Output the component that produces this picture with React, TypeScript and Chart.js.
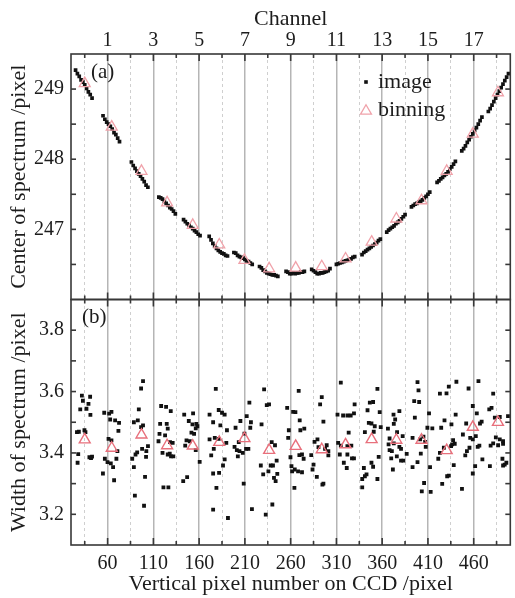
import React, { useEffect, useRef } from 'react';
import { Chart, registerables } from 'chart.js';

Chart.register(...registerables);

const FONT = '"Liberation Serif", "Times New Roman", serif';
const TEXT = '#1c1c1c';
const FRAME = '#383838';
const GRID_MAJOR = '#b5b5b5';
const GRID_MINOR = '#cfcfcf';
const TRI_TOP = '#f0a2aa';
const TRI_BOT = '#e8707c';

// ---- axes ----
const X_MIN = 20;
const X_MAX = 500;
const X_TICKS = [35, 60, 85, 110, 135, 160, 185, 210, 235, 260, 285, 310, 335, 360, 385, 410, 435, 460, 485];
const X_TICK_LABELS = ['', '60', '', '110', '', '160', '', '210', '', '260', '', '310', '', '360', '', '410', '', '460', ''];
const CHANNEL_TICKS = [35, 60, 85, 110, 135, 160, 185, 210, 235, 260, 285, 310, 335, 360, 385, 410, 435, 460, 485];
const CHANNEL_LABELS = ['', '1', '', '3', '', '5', '', '7', '', '9', '', '11', '', '13', '', '15', '', '17', ''];
const Y_TOP_RANGE = [246, 249.5];
const Y_TOP_TICKS = [246.5, 247, 247.5, 248, 248.5, 249];
const Y_TOP_LABELS = ['', '247', '', '248', '', '249'];
const Y_BOT_RANGE = [3.1, 3.9];
const Y_BOT_TICKS = [3.2, 3.3, 3.4, 3.5, 3.6, 3.7, 3.8];
const Y_BOT_LABELS = ['3.2', '', '3.4', '', '3.6', '', '3.8'];

// ---- binning (triangles) ----
const BIN_X = [35, 64.5, 97, 125, 153, 182, 209.5, 236.5, 265.5, 294, 320, 348.5, 375.5, 403, 430.5, 459, 486.5];
const BIN_TOP_Y = [249.08, 248.46, 247.83, 247.38, 247.06, 246.78, 246.56, 246.44, 246.45, 246.47, 246.58, 246.82, 247.15, 247.41, 247.83, 248.36, 248.95];
const BIN_BOT_Y = [3.443, 3.416, 3.459, 3.424, 3.423, 3.435, 3.447, 3.409, 3.422, 3.411, 3.427, 3.444, 3.442, 3.442, 3.408, 3.484, 3.5];

// ---- image: center of spectrum ----
const IMG_TOP_X = [
  25, 27, 29, 31, 33, 35, 37, 39, 41, 43,
  55, 57, 59, 61, 63, 65, 67, 69, 71, 73,
  86, 88, 90, 92, 94, 96, 98, 100, 102, 104,
  116, 118, 120, 122, 124, 126, 128, 130, 132, 134,
  143, 145, 147, 149, 151, 153, 155, 157, 159, 161,
  171, 173, 175, 177, 179, 181, 183, 185, 187, 189, 191,
  198, 200, 202, 204, 206, 208, 210, 212, 214, 216, 218,
  226, 228, 230, 232, 234, 236, 238, 240, 242, 244, 246,
  255, 257, 259, 261, 263, 265, 267, 269, 271, 273, 275,
  283, 285, 287, 289, 291, 293, 295, 297, 299, 301, 303,
  310, 312, 314, 316, 318, 320, 322, 324, 326, 328, 330,
  338, 340, 342, 344, 346, 348, 350, 352, 354, 356, 358,
  365, 367, 369, 371, 373, 375, 377, 379, 381, 383, 385,
  392, 394, 396, 398, 400, 402, 404, 406, 408, 410, 412,
  420, 422, 424, 426, 428, 430, 432, 434, 436, 438, 440,
  447, 449, 451, 453, 455, 457, 459, 461, 463, 465, 467, 469,
  476, 478, 480, 482, 484, 486, 488, 490, 492, 494, 496, 498,
];
const IMG_TOP_Y = [
  249.27, 249.22, 249.18, 249.13, 249.10, 249.06, 249.01, 248.96, 248.92, 248.87,
  248.62, 248.57, 248.53, 248.50, 248.47, 248.43, 248.38, 248.35, 248.30, 248.25,
  247.96, 247.91, 247.87, 247.83, 247.79, 247.76, 247.72, 247.68, 247.63, 247.60,
  247.46, 247.45, 247.43, 247.40, 247.37, 247.34, 247.31, 247.29, 247.26, 247.22,
  247.14, 247.11, 247.08, 247.06, 247.03, 247.01, 246.98, 246.96, 246.93, 246.91,
  246.90, 246.85, 246.80, 246.76, 246.73, 246.70, 246.68, 246.66, 246.65, 246.63, 246.62,
  246.67, 246.66, 246.63, 246.61, 246.60, 246.59, 246.57, 246.55, 246.54, 246.52, 246.50,
  246.47, 246.45, 246.42, 246.40, 246.38, 246.37, 246.36, 246.35, 246.35, 246.34, 246.33,
  246.40, 246.39, 246.37, 246.37, 246.38, 246.37, 246.38, 246.38, 246.39, 246.39, 246.40,
  246.43, 246.41, 246.39, 246.37, 246.37, 246.38, 246.38, 246.39, 246.40, 246.41, 246.44,
  246.50, 246.51, 246.52, 246.53, 246.54, 246.55, 246.56, 246.57, 246.58, 246.60, 246.61,
  246.64, 246.67, 246.69, 246.71, 246.73, 246.75, 246.77, 246.79, 246.81, 246.84, 246.86,
  246.96, 246.99, 247.01, 247.03, 247.05, 247.08, 247.10, 247.12, 247.15, 247.18, 247.21,
  247.32, 247.34, 247.36, 247.37, 247.39, 247.40, 247.42, 247.45, 247.47, 247.50, 247.53,
  247.67, 247.69, 247.72, 247.74, 247.77, 247.79, 247.82, 247.86, 247.89, 247.93, 247.97,
  248.12, 248.15, 248.19, 248.24, 248.28, 248.32, 248.36, 248.41, 248.45, 248.50, 248.55, 248.60,
  248.68, 248.72, 248.77, 248.82, 248.87, 248.92, 248.97, 249.02, 249.07, 249.12, 249.17, 249.22,
];

// ---- image: width of spectrum ----
const IMG_BOT_X = [
  31.9, 40.9, 33.0, 39.1, 30.1, 36.9, 41.2, 26.5, 28.6, 34.7, 35.8, 27.9, 27.2, 40.1, 43.0, 41.9,
  56.3, 61.7, 64.2, 62.8, 68.2, 72.5, 71.8, 61.0, 64.2, 70.7, 57.0, 59.9, 63.5, 69.6, 66.0, 54.9, 67.1,
  98.7, 96.6, 94.1, 88.7, 93.0, 98.7, 96.6, 104.1, 97.7, 92.3, 90.5, 102.3, 102.0, 86.9, 88.7, 100.9, 89.8, 99.8,
  118.5, 123.9, 129.0, 117.4, 124.6, 125.7, 116.7, 122.8, 115.6, 128.2, 131.1, 120.0, 125.7, 129.3, 131.8, 127.9, 121.0, 126.4,
  143.7, 153.4, 148.7, 152.7, 157.0, 158.1, 156.3, 151.6, 154.5, 146.2, 149.8, 144.8, 156.3, 160.6, 146.9, 142.6,
  171.4, 171.4, 173.2, 178.2, 181.4, 185.0, 187.9, 175.3, 183.2, 190.4, 177.1, 181.4, 189.7, 176.0, 187.9, 186.1, 181.8, 175.3, 178.9, 175.3, 191.5,
  214.9, 212.0, 205.1, 216.6, 199.8, 215.9, 209.5, 203.3, 198.7, 201.2, 204.1, 207.7, 211.3, 213.8, 202.3, 208.7, 217.7,
  231.0, 233.9, 236.4, 228.2, 239.3, 242.9, 244.7, 227.4, 238.2, 240.7, 235.7, 230.0, 245.4, 241.8, 243.6, 240.0, 232.8,
  268.8, 256.2, 262.7, 265.2, 269.9, 258.0, 270.6, 274.9, 257.3, 269.5, 272.4, 259.8, 274.2, 260.9, 264.5, 261.6, 268.1, 272.4, 264.1,
  294.0, 292.2, 295.8, 289.3, 286.1, 299.4, 290.4, 297.6, 301.2, 282.5, 301.2, 285.0, 283.9, 288.6, 295.8, 294.7,
  314.8, 311.2, 317.3, 322.0, 325.6, 329.9, 329.2, 323.4, 311.9, 314.8, 326.3, 322.0, 313.7, 322.0, 327.0, 329.2, 318.1, 321.3,
  354.8, 346.5, 350.1, 344.0, 357.3, 345.4, 348.3, 351.9, 341.1, 350.8, 358.4, 356.2, 348.3, 350.1, 340.0, 342.9, 341.1, 338.2, 354.8, 338.2,
  372.4, 378.8, 374.2, 372.7, 366.3, 376.3, 382.4, 368.1, 367.0, 372.7, 378.8, 380.6, 370.6, 386.8, 369.9, 376.0, 380.6, 383.2, 371.7, 368.1,
  398.6, 399.7, 395.0, 400.4, 395.7, 411.2, 409.4, 414.8, 405.1, 393.2, 401.5, 406.9, 407.6, 402.2, 398.6, 393.2, 412.3, 405.8, 403.3, 413.0,
  423.1, 430.3, 432.8, 441.1, 428.1, 424.5, 435.7, 440.3, 437.5, 439.3, 436.4, 435.3, 427.4, 423.1, 421.3, 432.8, 431.0, 438.2, 425.6, 447.2,
  454.4, 465.2, 459.0, 463.4, 451.8, 468.7, 466.9, 448.2, 456.2, 459.0, 462.3, 455.4, 452.6, 450.8, 464.4, 466.2, 461.6, 469.5, 459.0,
  481.3, 477.0, 479.5, 483.1, 488.5, 497.5, 484.2, 488.5, 492.1, 481.3, 486.7, 492.1, 478.5, 491.4, 495.7, 492.1, 493.9, 477.7,
];
const IMG_BOT_Y = [
  3.587, 3.583, 3.570, 3.560, 3.542, 3.544, 3.524, 3.468, 3.469, 3.474, 3.468, 3.396, 3.368, 3.386, 3.388, 3.383,
  3.531, 3.528, 3.534, 3.509, 3.506, 3.498, 3.472, 3.446, 3.441, 3.406, 3.381, 3.370, 3.366, 3.381, 3.354, 3.333, 3.311,
  3.634, 3.610, 3.542, 3.500, 3.506, 3.490, 3.484, 3.422, 3.413, 3.402, 3.395, 3.406, 3.387, 3.381, 3.354, 3.322, 3.261, 3.228,
  3.553, 3.550, 3.536, 3.495, 3.495, 3.479, 3.462, 3.457, 3.438, 3.435, 3.433, 3.400, 3.395, 3.389, 3.389, 3.398, 3.288, 3.288,
  3.525, 3.529, 3.504, 3.493, 3.495, 3.487, 3.480, 3.466, 3.462, 3.441, 3.438, 3.424, 3.409, 3.371, 3.321, 3.308,
  3.525, 3.444, 3.392, 3.609, 3.540, 3.531, 3.525, 3.500, 3.490, 3.474, 3.449, 3.446, 3.433, 3.413, 3.379, 3.359, 3.335, 3.333, 3.286, 3.215, 3.188,
  3.564, 3.520, 3.504, 3.500, 3.482, 3.482, 3.463, 3.435, 3.420, 3.409, 3.406, 3.400, 3.413, 3.413, 3.389, 3.300, 3.217,
  3.607, 3.556, 3.558, 3.493, 3.435, 3.425, 3.375, 3.359, 3.359, 3.359, 3.340, 3.330, 3.332, 3.319, 3.308, 3.232, 3.199,
  3.602, 3.547, 3.534, 3.533, 3.506, 3.474, 3.474, 3.479, 3.449, 3.393, 3.395, 3.386, 3.381, 3.357, 3.346, 3.340, 3.340, 3.337, 3.286,
  3.582, 3.558, 3.502, 3.444, 3.436, 3.425, 3.419, 3.413, 3.406, 3.393, 3.392, 3.362, 3.346, 3.322, 3.300, 3.297,
  3.629, 3.525, 3.522, 3.522, 3.522, 3.558, 3.529, 3.466, 3.433, 3.424, 3.424, 3.422, 3.395, 3.395, 3.382, 3.382, 3.368, 3.351,
  3.609, 3.564, 3.566, 3.539, 3.533, 3.498, 3.496, 3.487, 3.468, 3.469, 3.484, 3.387, 3.368, 3.355, 3.351, 3.330, 3.324, 3.315, 3.315, 3.288,
  3.525, 3.536, 3.509, 3.495, 3.479, 3.468, 3.455, 3.447, 3.428, 3.431, 3.420, 3.413, 3.406, 3.397, 3.382, 3.389, 3.375, 3.375, 3.346, 3.409,
  3.631, 3.604, 3.569, 3.566, 3.515, 3.529, 3.482, 3.480, 3.453, 3.449, 3.444, 3.436, 3.420, 3.398, 3.370, 3.354, 3.354, 3.302, 3.275, 3.273,
  3.593, 3.594, 3.616, 3.632, 3.506, 3.482, 3.493, 3.525, 3.442, 3.430, 3.428, 3.422, 3.417, 3.400, 3.381, 3.326, 3.324, 3.360, 3.299, 3.283,
  3.610, 3.634, 3.553, 3.529, 3.496, 3.502, 3.496, 3.460, 3.449, 3.444, 3.455, 3.417, 3.406, 3.392, 3.420, 3.424, 3.357, 3.379, 3.333,
  3.593, 3.542, 3.547, 3.515, 3.517, 3.520, 3.451, 3.444, 3.438, 3.431, 3.425, 3.430, 3.424, 3.381, 3.368, 3.359, 3.362, 3.357,
];

const LEGEND_LABELS = ['image', 'binning'];
const PANEL_LABELS = ['(a)', '(b)'];

const toPoints = (xs: number[], ys: number[]) => xs.map((x, i) => ({ x, y: ys[i] }));

const decorPlugin = {
  id: 'panelDecor',
  afterDatasetsDraw(chart: any) {
    const { ctx, chartArea, scales } = chart;
    const xs = scales.x;
    const panels = [scales.yTop, scales.yBot];
    const left = chartArea.left;
    const right = chartArea.right;
    ctx.save();
    ctx.strokeStyle = FRAME;
    ctx.lineWidth = 1.6;
    const seg = (x1: number, y1: number, x2: number, y2: number) => {
      ctx.beginPath();
      ctx.moveTo(x1, y1);
      ctx.lineTo(x2, y2);
      ctx.stroke();
    };
    for (const ys of panels) {
      const top = ys.top;
      const bottom = ys.bottom;
      ctx.strokeRect(left, top, right - left, bottom - top);
      X_TICKS.forEach((v, i) => {
        const px = xs.getPixelForValue(v);
        const len = X_TICK_LABELS[i] ? 7 : 4;
        seg(px, top, px, top + len);
        seg(px, bottom, px, bottom - len);
      });
      const yt = ys.id === 'yTop' ? Y_TOP_TICKS : Y_BOT_TICKS;
      yt.forEach((v) => {
        const py = ys.getPixelForValue(v);
        seg(left, py, left + 5, py);
        seg(right, py, right - 5, py);
      });
    }
    // panel labels
    ctx.fillStyle = TEXT;
    ctx.textAlign = 'left';
    ctx.textBaseline = 'alphabetic';
    ctx.font = `21px ${FONT}`;
    ctx.fillText(PANEL_LABELS[0], left + 20, scales.yTop.top + 24);
    ctx.fillText(PANEL_LABELS[1], left + 11, scales.yBot.top + 23.5);

    // legend
    const lx = left + 295;
    const ty = scales.yTop.top;
    ctx.fillStyle = '#111';
    ctx.fillRect(lx - 1.8, ty + 28 - 1.8, 3.6, 3.6);
    ctx.strokeStyle = TRI_TOP;
    ctx.lineWidth = 1.3;
    const r = 6.3;
    const cy = ty + 57;
    ctx.beginPath();
    ctx.moveTo(lx, cy - r);
    ctx.lineTo(lx + r * 0.866, cy + r * 0.5);
    ctx.lineTo(lx - r * 0.866, cy + r * 0.5);
    ctx.closePath();
    ctx.stroke();
    ctx.fillStyle = TEXT;
    ctx.font = `22px ${FONT}`;
    ctx.fillText(LEGEND_LABELS[0], lx + 12, ty + 33.5);
    ctx.fillText(LEGEND_LABELS[1], lx + 12, ty + 62);
    ctx.restore();
  },
};

export default function App() {
  const ref = useRef<HTMLCanvasElement>(null);

  useEffect(() => {
    if (!ref.current) return;
    const tickFont = { family: FONT, size: 20 };
    const titleFont = { family: FONT, size: 22 };
    const chart = new Chart(ref.current, {
      type: 'scatter',
      data: {
        datasets: [
          {
            label: 'binning',
            data: toPoints(BIN_X, BIN_TOP_Y),
            xAxisID: 'x',
            yAxisID: 'yTop',
            pointStyle: 'triangle',
            pointRadius: 6.3,
            pointBorderWidth: 1.3,
            pointBorderColor: TRI_TOP,
            pointBackgroundColor: 'rgba(0,0,0,0)',
            showLine: false,
          },
          {
            label: 'binning',
            data: toPoints(BIN_X, BIN_BOT_Y),
            xAxisID: 'x',
            yAxisID: 'yBot',
            pointStyle: 'triangle',
            pointRadius: 6.3,
            pointBorderWidth: 1.4,
            pointBorderColor: TRI_BOT,
            pointBackgroundColor: 'rgba(0,0,0,0)',
            showLine: false,
          },
          {
            label: 'image',
            data: toPoints(IMG_TOP_X, IMG_TOP_Y),
            xAxisID: 'x',
            yAxisID: 'yTop',
            pointStyle: 'rect',
            pointRadius: 2.6,
            pointBorderWidth: 0,
            pointBackgroundColor: '#111',
            pointBorderColor: '#111',
            showLine: false,
          },
          {
            label: 'image',
            data: toPoints(IMG_BOT_X, IMG_BOT_Y),
            xAxisID: 'x',
            yAxisID: 'yBot',
            pointStyle: 'rect',
            pointRadius: 2.7,
            pointBorderWidth: 0,
            pointBackgroundColor: '#111',
            pointBorderColor: '#111',
            showLine: false,
          },
        ],
      },
      options: {
        animation: false,
        responsive: true,
        maintainAspectRatio: false,
        devicePixelRatio: 1,
        events: [],
        layout: { padding: { left: 0, right: 2, top: 0, bottom: 0 } },
        plugins: { legend: { display: false }, tooltip: { enabled: false } },
        scales: {
          x: {
            type: 'linear',
            position: 'bottom',
            min: X_MIN,
            max: X_MAX,
            afterBuildTicks: (s: any) => { s.ticks = X_TICKS.map((v) => ({ value: v })); },
            afterFit: (s: any) => { s.height = 53; },
            ticks: {
              autoSkip: false,
              maxRotation: 0,
              minRotation: 0,
              padding: 7,
              font: tickFont,
              color: TEXT,
              callback: (_v: any, i: number) => X_TICK_LABELS[i],
            },
            grid: {
              drawTicks: false,
              color: (c: any) => (X_TICK_LABELS[c.index] ? GRID_MAJOR : GRID_MINOR),
              lineWidth: (c: any) => (X_TICK_LABELS[c.index] ? 1.5 : 1),
            },
            border: {
              display: false,
              dash: (c: any) => (X_TICK_LABELS[c.index] ? [] : [3, 3]),
            },
            title: {
              display: true,
              text: 'Vertical pixel number on CCD /pixel',
              font: titleFont,
              color: TEXT,
              padding: { top: 0, bottom: 0.5 },
            },
          },
          xTop: {
            type: 'linear',
            position: 'top',
            min: X_MIN,
            max: X_MAX,
            afterBuildTicks: (s: any) => { s.ticks = CHANNEL_TICKS.map((v) => ({ value: v })); },
            afterFit: (s: any) => { s.height = 54; },
            ticks: {
              autoSkip: false,
              maxRotation: 0,
              minRotation: 0,
              padding: 1.5,
              font: tickFont,
              color: TEXT,
              callback: (_v: any, i: number) => CHANNEL_LABELS[i],
            },
            grid: { display: false, drawTicks: false },
            border: { display: false },
            title: {
              display: true,
              text: 'Channel',
              font: titleFont,
              color: TEXT,
              padding: { top: 6.5, bottom: 0 },
            },
          },
          yBot: {
            type: 'linear',
            position: 'left',
            stack: 'panels',
            stackWeight: 1,
            min: Y_BOT_RANGE[0],
            max: Y_BOT_RANGE[1],
            afterBuildTicks: (s: any) => { s.ticks = Y_BOT_TICKS.map((v) => ({ value: v })); },
            afterFit: (s: any) => { s.width = 71; },
            ticks: {
              autoSkip: false,
              padding: 7,
              font: tickFont,
              color: TEXT,
              callback: (_v: any, i: number) => Y_BOT_LABELS[i],
            },
            grid: { display: false, drawTicks: false },
            border: { display: false },
            title: {
              display: true,
              text: 'Width of spectrum /pixel',
              font: titleFont,
              color: TEXT,
              padding: { top: 6.5, bottom: 0 },
            },
          },
          yTop: {
            type: 'linear',
            position: 'left',
            stack: 'panels',
            stackWeight: 1,
            min: Y_TOP_RANGE[0],
            max: Y_TOP_RANGE[1],
            afterBuildTicks: (s: any) => { s.ticks = Y_TOP_TICKS.map((v) => ({ value: v })); },
            afterFit: (s: any) => { s.width = 71; },
            ticks: {
              autoSkip: false,
              padding: 7,
              font: tickFont,
              color: TEXT,
              callback: (_v: any, i: number) => Y_TOP_LABELS[i],
            },
            grid: { display: false, drawTicks: false },
            border: { display: false },
            title: {
              display: true,
              text: 'Center of spectrum /pixel',
              font: titleFont,
              color: TEXT,
              padding: { top: 6.5, bottom: 0 },
            },
          },
        },
      } as any,
      plugins: [decorPlugin],
    });
    return () => chart.destroy();
  }, []);

  return (
    <div style={{ position: 'fixed', left: 0, top: 0, width: 515, height: 598, overflow: 'hidden', background: '#fff' }}>
      <div style={{ position: 'relative', width: 518, height: 598 }}>
        <canvas ref={ref} />
      </div>
    </div>
  );
}
